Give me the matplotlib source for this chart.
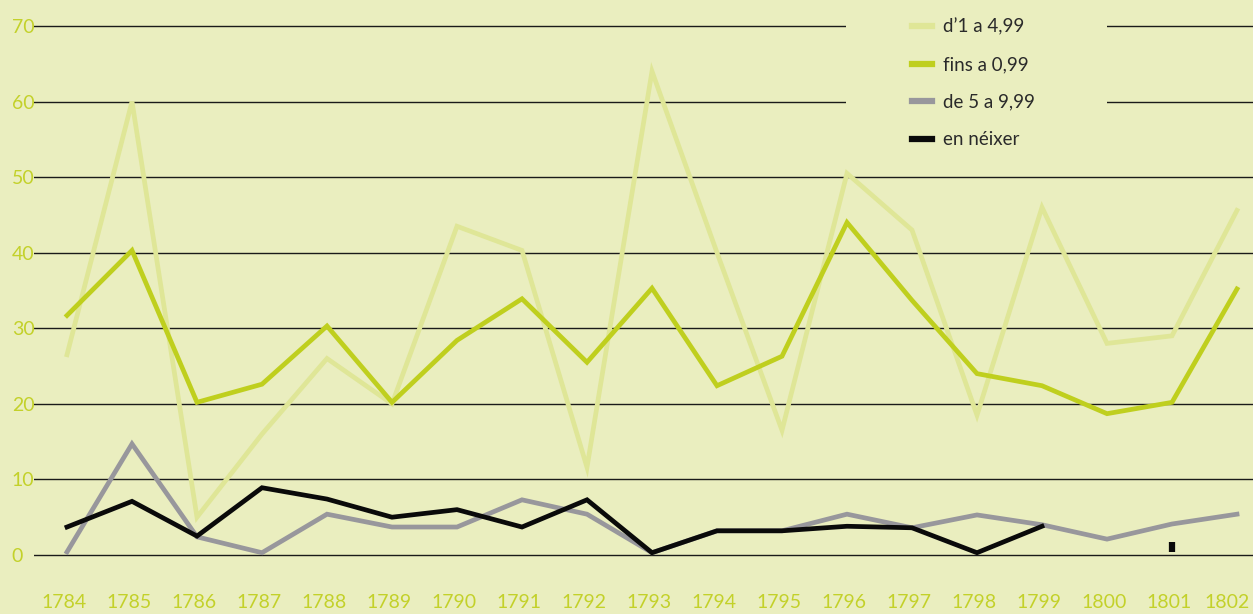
import matplotlib.pyplot as plt
from matplotlib.patches import Rectangle
from matplotlib.transforms import ScaledTranslation
import numpy as np

plt.rcParams['font.family'] = ['Lato', 'DejaVu Sans']

# anys
anys = list(range(1784, 1803))

# valors llegits del gràfic
d1_a_499 = [26.5, 60, 5, 16, 26, 20, 43.5, 40.3, 11.6, 64, 40, 16.5, 50.5, 43, 18.5, 46, 28, 29, 45.6]
fins_099 = [31.7, 40.3, 20.2, 22.6, 30.3, 20.2, 28.4, 33.9, 25.5, 35.3, 22.4, 26.3, 44, 33.7, 24, 22.4, 18.7, 20.2, 35.2]
de5_a_999 = [0.4, 14.7, 2.4, 0.3, 5.4, 3.7, 3.7, 7.3, 5.4, 0.3, 3.2, 3.2, 5.4, 3.6, 5.3, 4, 2.1, 4.1, 5.4]
en_neixer = [3.7, 7.1, 2.5, 8.9, 7.4, 5.0, 6.0, 3.7, 7.3, 0.3, 3.2, 3.2, 3.8, 3.6, 0.3, 3.8, np.nan, 1.0, np.nan]

yticks = [0, 10, 20, 30, 40, 50, 60, 70]

fons = '#eaeebf'
verd_clar = '#dfe697'
verd = '#bfcf1e'
gris = '#98979c'
negre = '#0a0a0a'
verd_text = '#c3d12a'

fig = plt.figure(figsize=(12.53, 6.14), dpi=100, facecolor=fons)
ax = fig.add_axes([34/1253, (614-570.1)/614, 1-34/1253, (570.1-10.9)/614])
ax.set_facecolor(fons)

ax.plot(anys, d1_a_499, color=verd_clar, lw=3.4, label="d’1 a 4,99", zorder=3, solid_joinstyle='miter')
ax.plot(anys, fins_099, color=verd, lw=3.4, label='fins a 0,99', zorder=4, solid_joinstyle='miter')
ax.plot(anys, de5_a_999, color=gris, lw=3.4, label='de 5 a 9,99', zorder=5, solid_joinstyle='miter')
ax.plot(anys, en_neixer, color=negre, lw=3.4, label='en néixer', zorder=6, solid_joinstyle='miter')

# punts aïllats (sense veïns) -> petita marca
v = np.array(en_neixer, dtype=float)
ant = np.r_[np.nan, v[:-1]]
seg = np.r_[v[1:], np.nan]
aillat = ~np.isnan(v) & np.isnan(ant) & np.isnan(seg)
ax.plot(np.array(anys)[aillat], v[aillat], ls='none', marker='|', ms=7.5, mew=4.5, color=negre, zorder=6)

ax.set_xlim(1784 - 33/65, 1802 + 16/65)
ax.set_ylim(-2, 72)

for s in ax.spines.values():
    s.set_visible(False)

ax.set_yticks(yticks)
ax.set_yticklabels([str(v) for v in yticks], ha='left')
ax.set_xticks(anys)
ax.tick_params(axis='both', length=0, colors=verd_text, labelsize=14)
ax.tick_params(axis='y', pad=16)
ax.tick_params(axis='x', pad=17)
ax.yaxis.grid(True, color='#1a1a1a', lw=1.0, zorder=1)
ax.xaxis.grid(False)
ax.set_axisbelow(True)

# etiquetes de l'eix x una mica a l'esquerra; l'última que no quedi tallada
xlabels = ax.get_xticklabels()
for lab in xlabels:
    lab.set_transform(lab.get_transform() + ScaledTranslation(-3/100, 0, fig.dpi_scale_trans))
xlabels[-1].set_ha('right')
xlabels[-1].set_transform(xlabels[-1].get_transform() + ScaledTranslation(16/100, 0, fig.dpi_scale_trans))

# tapa les línies de la quadrícula darrere la llegenda
ax.add_patch(Rectangle((846/1253, (614-150)/614), 261/1253, 150/614,
                       transform=fig.transFigure, facecolor=fons, edgecolor='none', zorder=2))

leg = ax.legend(loc='upper left', bbox_to_anchor=(912/1253, 1 - 18/614), bbox_transform=fig.transFigure,
                frameon=False, fontsize=13.5, handlelength=1.05, handletextpad=0.6,
                labelspacing=1.1, borderpad=0, borderaxespad=0)
for t in leg.get_texts():
    t.set_color('#2a2a2a')
for h in leg.get_lines():
    h.set_linewidth(4.5)

fig.savefig('out.png', dpi=100, facecolor=fons)
